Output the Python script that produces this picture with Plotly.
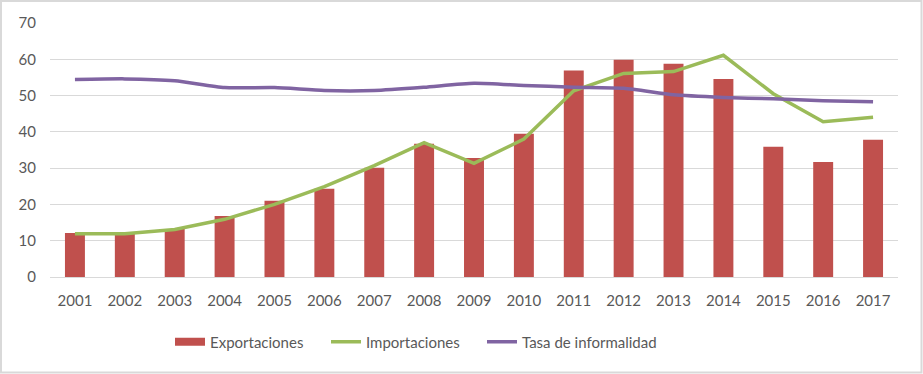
import plotly.graph_objects as go

years = [str(y) for y in range(2001, 2018)]
exportaciones = [12.1, 12.0, 13.2, 16.8, 21.0, 24.3, 30.1, 36.7, 32.8, 39.5, 56.9, 59.9, 58.8, 54.6, 35.9, 31.7, 37.8]
importaciones = [11.9, 11.9, 13.1, 15.9, 20.0, 24.9, 30.7, 37.0, 31.3, 38.0, 51.3, 56.1, 56.6, 61.1, 50.5, 42.8, 44.0]
tasa_informalidad = [54.4, 54.6, 54.1, 52.2, 52.2, 51.4, 51.4, 52.3, 53.4, 52.8, 52.3, 52.0, 50.2, 49.5, 49.1, 48.6, 48.3]
y_ticks = [0, 10, 20, 30, 40, 50, 60, 70]

FONT = "Lato"
TXT = "#595959"
FS = 15
RED, GREEN, PURPLE = "#C0504D", "#9BBB59", "#8064A2"

fig = go.Figure()
fig.add_trace(go.Bar(x=years, y=exportaciones, name="Exportaciones", showlegend=False,
                     marker=dict(color=RED, line=dict(width=0))))
# legend-only entry giving the wide rectangular swatch of the bar series
fig.add_trace(go.Scatter(x=[None], y=[None], name="Exportaciones", mode="lines",
                         line=dict(color=RED, width=8), legendwidth=111))
fig.add_trace(go.Scatter(x=years, y=importaciones, name="Importaciones", mode="lines",
                         line=dict(color=GREEN, width=3.5), legendwidth=111))
fig.add_trace(go.Scatter(x=years, y=tasa_informalidad, name="Tasa de informalidad", mode="lines",
                         line=dict(color=PURPLE, width=3.5, shape="spline", smoothing=0.6),
                         legendwidth=134))

L, R, T, B = 50, 25, 23, 97
W, H = 923, 374
pw, ph = W - L - R, H - T - B

fig.update_layout(
    width=W, height=H,
    margin=dict(l=L, r=R, t=T, b=B, pad=0, autoexpand=False),
    paper_bgcolor="white", plot_bgcolor="white",
    font=dict(family=FONT, size=FS, color=TXT),
    bargap=0.6,
    showlegend=True,
    legend=dict(orientation="h", x=170 / W, xref="container", xanchor="left",
                y=1 - 342 / H, yref="container", yanchor="middle",
                font=dict(family=FONT, size=FS, color=TXT),
                traceorder="normal", bgcolor="rgba(0,0,0,0)"),
    xaxis=dict(type="category", showgrid=False, showline=False, ticks="", automargin=False,
               ticklabelstandoff=13,
               tickfont=dict(family=FONT, size=FS, color=TXT), fixedrange=True),
    yaxis=dict(range=[0, 70], tickvals=y_ticks, showgrid=True, gridcolor="#D9D9D9", gridwidth=1,
               zeroline=True, zerolinecolor="#D9D9D9", zerolinewidth=1, showline=False, ticks="",
               ticklabelstandoff=13, automargin=False,
               tickfont=dict(family=FONT, size=FS, color=TXT), fixedrange=True),
    shapes=[dict(type="rect", xref="paper", yref="paper",
                 x0=(1 - L) / pw, x1=(W - 1.5 - L) / pw,
                 y0=(T + ph - (H - 1.5)) / ph, y1=(T + ph - 1) / ph,
                 line=dict(color="#D9D9D9", width=2), fillcolor="rgba(0,0,0,0)", layer="below")],
)

fig.write_html("out.html", config={"displayModeBar": False},
               post_script="document.body.style.margin='0';document.body.style.overflow='hidden';")
